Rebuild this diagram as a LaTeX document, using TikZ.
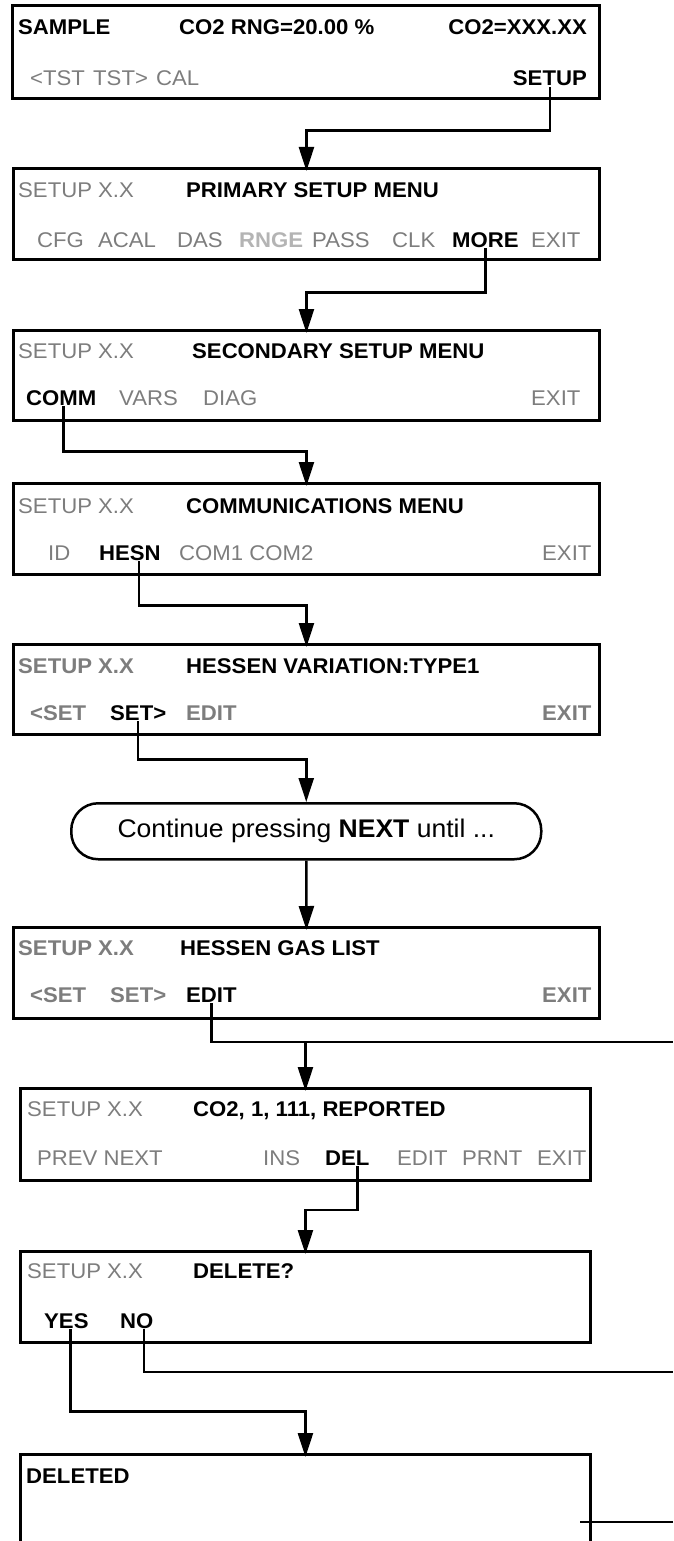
\documentclass[tikz,border=0pt]{standalone}
\usepackage{fontspec}
\setmainfont{Liberation Sans}[FakeStretch=1.04]
\usetikzlibrary{arrows.meta}

\definecolor{keygray}{RGB}{125,125,125}
\definecolor{keylight}{RGB}{180,180,180}

\tikzset{
  scrn/.style={draw,line width=2.9pt,anchor=north west,minimum height=91pt,inner sep=0pt},
  txt/.style={anchor=base west,inner sep=1pt,font=\fontsize{21.3}{24}\selectfont},
  hd/.style={txt,font=\fontsize{21.3}{24}\selectfont\bfseries},
  gk/.style={txt,text=keygray},
  gb/.style={hd,text=keygray},
  lb/.style={hd,text=keylight},
  link/.style={line width=2.5pt},
  go/.style={link,-{Triangle[length=24pt,width=15pt]},shorten >=-4pt},
}

\begin{document}
\begin{tikzpicture}[x=1pt,y=-1pt]
\useasboundingbox (0,0) rectangle (673,1541);
\clip (0,0) rectangle (673,1541);

\node[scrn,minimum width=587pt,minimum height=93pt] (sample) at (11,4) {};
\node[hd] (s1) at (17,35) {SAMPLE};
\node[hd] (s2) at (178,35) {CO2 RNG=20.00 \%};
\node[hd,anchor=base east] (s3) at (588,35) {CO2=XXX.XX};
\node[gk] (s4) at (29,86) {<TST};
\node[gk] (s5) at (92,86) {TST>};
\node[gk] (s6) at (155,86) {CAL};
\node[hd,anchor=base east] (setupkey) at (588,86) {SETUP};

\node[scrn,minimum width=586pt] (primary) at (12,167) {};
\node[gk] (p1) at (17,197) {SETUP X.X};
\node[hd] (p2) at (185,197) {PRIMARY SETUP MENU};
\node[gk] (p3) at (36,247) {CFG};
\node[gk] (p4) at (97,247) {ACAL};
\node[gk] (p5) at (176,247) {DAS};
\node[lb] (p6) at (238,247) {RNGE};
\node[gk] (p7) at (311,247) {PASS};
\node[gk] (p8) at (391,247) {CLK};
\node[hd] (morekey) at (451,247) {MORE};
\node[gk] (p9) at (530,247) {EXIT};

\node[scrn,minimum width=586pt,minimum height=90pt] (secondary) at (12,329) {};
\node[gk] (c1) at (17,358) {SETUP X.X};
\node[hd] (c2) at (191,358) {SECONDARY SETUP MENU};
\node[hd] (commkey) at (25,405) {COMM};
\node[gk] (c3) at (118,405) {VARS};
\node[gk] (c4) at (202,405) {DIAG};
\node[gk] (c5) at (530,405) {EXIT};

\node[scrn,minimum width=586pt] (commmenu) at (12,482) {};
\node[gk] (m1) at (17,513) {SETUP X.X};
\node[hd] (m2) at (185,513) {COMMUNICATIONS MENU};
\node[gk] (m3) at (47,560) {ID};
\node[hd] (hesnkey) at (98,560) {HESN};
\node[gk] (m4) at (178,560) {COM1 COM2};
\node[gk] (m5) at (541,560) {EXIT};

\node[scrn,minimum width=586pt,minimum height=90pt] (hessvar) at (12,643) {};
\node[gb] (v1) at (17,673) {SETUP X.X};
\node[hd] (v2) at (185,673) {HESSEN VARIATION:TYPE1};
\node[gb] (v3) at (29,720) {<SET};
\node[hd] (setnkey) at (109,720) {SET>};
\node[gb] (v4) at (185,720) {EDIT};
\node[gb] (v5) at (541,720) {EXIT};

\node[draw,line width=2.5pt,rounded corners=27pt,anchor=north west,minimum width=470pt,minimum height=56pt,inner sep=0pt,
  font=\fontsize{25.5}{29}\selectfont] (contnext) at (70,802) {Continue pressing \textbf{NEXT} until ...};

\node[scrn,minimum width=586pt] (gaslist) at (12,926) {};
\node[gb] (g1) at (17,955) {SETUP X.X};
\node[hd] (g2) at (179,955) {HESSEN GAS LIST};
\node[gb] (g3) at (29,1002) {<SET};
\node[gb] (g4) at (109,1002) {SET>};
\node[hd] (editkey) at (185,1002) {EDIT};
\node[gb] (g5) at (541,1002) {EXIT};

\node[scrn,minimum width=570pt,minimum height=92pt] (gasentry) at (19,1087) {};
\node[gk] (e1) at (26,1116) {SETUP X.X};
\node[hd] (e2) at (192,1116) {CO2, 1, 111, REPORTED};
\node[gk] (e3) at (36,1165) {PREV NEXT};
\node[gk] (e4) at (262,1165) {INS};
\node[hd] (delkey) at (324,1165) {DEL};
\node[gk] (e5) at (396,1165) {EDIT};
\node[gk] (e6) at (461,1165) {PRNT};
\node[gk] (e7) at (536,1165) {EXIT};

\node[scrn,minimum width=570pt] (delask) at (19,1250) {};
\node[gk] (d1) at (26,1278) {SETUP X.X};
\node[hd] (d2) at (192,1278) {DELETE?};
\node[hd] (yeskey) at (43,1328) {YES};
\node[hd] (nokey) at (119,1328) {NO};

\node[scrn,minimum width=570pt,minimum height=130pt] (deleted) at (19,1453) {};
\node[hd] (x1) at (25,1483) {DELETED};

\coordinate (offedit) at (673,1042);
\coordinate (offno) at (673,1372);
\coordinate (offback) at (673,1522);
\coordinate (backend) at (580,1522);

\draw[go] (setupkey.south) -- ++(0,43) -| (primary.north);
\draw[go] (morekey.south) -- ++(0,44) -| (secondary.north);
\draw[go] ([xshift=2pt]commkey.south) -- ++(0,45) -| (commmenu.north);
\draw[go] ([xshift=9pt]hesnkey.south) -- ++(0,44) -| (hessvar.north);
\draw[go,shorten >=0pt] (setnkey.south) -- ++(0,38) -| (contnext.north);
\draw[go] (contnext.south) -- (gaslist.north);
\draw[link] (editkey.south) |- (offedit);
\draw[go] (gasentry.north |- offedit) -- (gasentry.north);
\draw[go] ([xshift=10pt]delkey.south) -- ++(0,44) -| (delask.north);
\draw[link] ([xshift=7pt]nokey.south) |- (offno);
\draw[go] ([xshift=4pt]yeskey.south) -- ++(0,82) -| (deleted.north);
\draw[link] (offback) -- (backend);
\end{tikzpicture}
\end{document}
